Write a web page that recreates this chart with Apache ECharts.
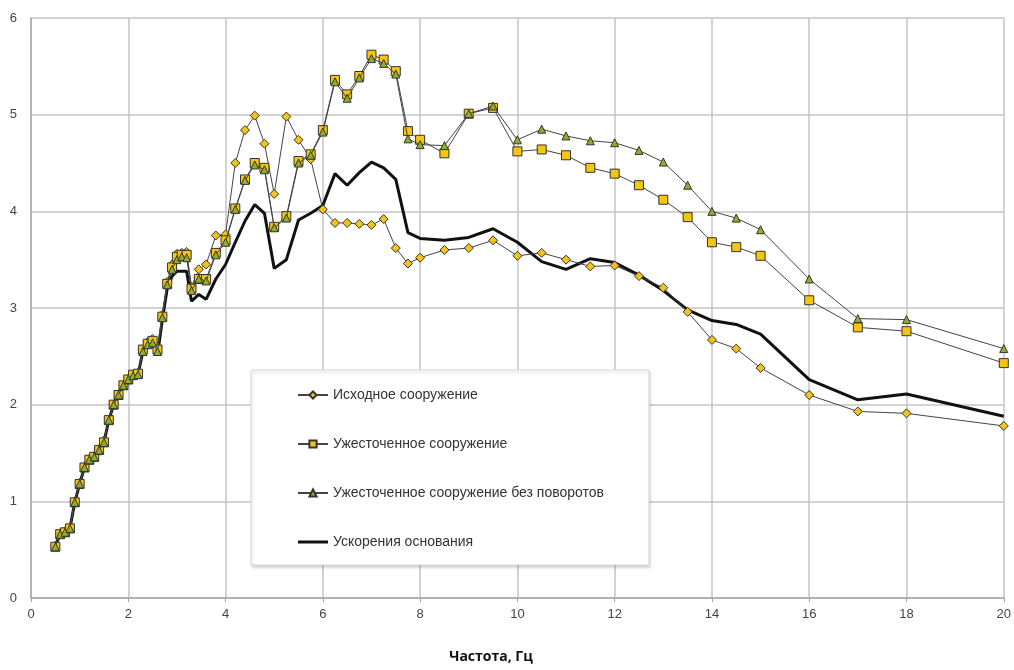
<!DOCTYPE html>
<html><head><meta charset="utf-8">
<script src="https://cdn.jsdelivr.net/npm/echarts@6/dist/echarts.min.js"></script>
<style>html,body{margin:0;padding:0;background:#fff;}#c{width:1014px;height:670px;}</style>
</head><body><div id="c"></div>
<script>
const freq = [0.5,0.6,0.7,0.8,0.9,1.0,1.1,1.2,1.3,1.4,1.5,1.6,1.7,1.8,1.9,2.0,
  2.1,2.2,2.3,2.4,2.5,2.6,2.7,2.8,2.9,3.0,3.1,3.2,3.3,
  3.45,3.6,3.8,4.0,
  4.2,4.4,4.6,4.8,5.0,
  5.25,5.5,5.75,6.0,6.25,6.5,6.75,7.0,7.25,7.5,7.75,8.0,
  8.5,9.0,9.5,10,10.5,11,11.5,12,12.5,13,13.5,14,14.5,15,
  16,17,18,20];
const original = [0.54,0.67,0.68,0.73,1.0,1.19,1.36,1.44,1.47,1.54,1.63,1.84,2.0,2.1,2.2,2.27,
  2.3,2.33,2.57,2.65,2.68,2.6,2.93,3.27,3.45,3.56,3.57,3.58,3.22,
  3.4,3.45,3.75,3.76,
  4.5,4.84,4.99,4.7,4.18,
  4.98,4.74,4.54,4.02,3.88,3.88,3.87,3.86,3.92,3.62,3.46,3.52,
  3.60,3.62,3.70,3.54,3.57,3.50,3.43,3.44,3.33,3.21,2.96,2.67,2.58,2.38,
  2.10,1.93,1.91,1.78];
const stiffened = [0.53,0.66,0.68,0.72,0.99,1.18,1.35,1.43,1.46,1.53,1.61,1.84,2.0,2.1,2.2,2.26,
  2.31,2.32,2.57,2.63,2.66,2.57,2.91,3.25,3.42,3.53,3.55,3.55,3.2,
  3.3,3.3,3.57,3.70,
  4.03,4.33,4.50,4.45,3.84,
  3.95,4.52,4.59,4.84,5.36,5.21,5.40,5.62,5.57,5.45,4.83,4.74,
  4.60,5.01,5.07,4.62,4.64,4.58,4.45,4.39,4.27,4.12,3.94,3.68,3.63,3.54,
  3.08,2.80,2.76,2.43];
const noRotation = [0.53,0.66,0.68,0.72,0.99,1.18,1.35,1.43,1.46,1.53,1.61,1.84,2.0,2.1,2.2,2.26,
  2.30,2.31,2.55,2.62,2.64,2.55,2.90,3.24,3.40,3.50,3.53,3.52,3.18,
  3.3,3.28,3.55,3.68,
  4.02,4.32,4.48,4.43,3.83,
  3.93,4.50,4.58,4.82,5.34,5.17,5.38,5.58,5.53,5.42,4.75,4.69,
  4.68,5.01,5.09,4.74,4.85,4.78,4.73,4.71,4.63,4.51,4.27,4.00,3.93,3.81,
  3.30,2.89,2.88,2.58];
const baseAccel = [0.54,0.66,0.68,0.72,0.99,1.18,1.35,1.43,1.46,1.53,1.61,1.84,2.0,2.1,2.2,2.26,
  2.30,2.31,2.55,2.62,2.62,2.51,2.88,3.2,3.33,3.38,3.38,3.38,3.07,
  3.14,3.09,3.3,3.45,
  3.68,3.9,4.07,3.98,3.41,
  3.50,3.91,3.98,4.06,4.39,4.27,4.40,4.51,4.45,4.33,3.78,3.72,
  3.70,3.73,3.82,3.68,3.48,3.40,3.51,3.47,3.34,3.18,2.98,2.87,2.83,2.73,
  2.26,2.05,2.11,1.88];
const seriesNames = ['Исходное сооружение','Ужесточенное сооружение','Ужесточенное сооружение без поворотов','Ускорения основания'];
const xTitle = 'Частота, Гц';

const pairs = ys => freq.map((x,i)=>[x, ys[i]]);
const chart = echarts.init(document.getElementById('c'), null, {renderer:'canvas'});
const gridLine = {show:true, lineStyle:{color:'#c4c4c4', width:1.5}};
const labelStyle = {color:'#444', fontFamily:'Liberation Sans, Arial, sans-serif', fontSize:13};
chart.setOption({
  animation:false,
  backgroundColor:'#fff',
  grid:{left:31, right:9, top:18, bottom:72, containLabel:false},
  xAxis:{type:'value', min:0, max:20, interval:2,
    axisLine:{show:true, onZero:false, lineStyle:{color:'#a8a8a8', width:1.5}},
    axisTick:{show:true, length:4, lineStyle:{color:'#a8a8a8'}},
    axisLabel:Object.assign({margin:10}, labelStyle),
    splitLine:gridLine},
  yAxis:{type:'value', min:0, max:6, interval:1,
    axisLine:{show:true, lineStyle:{color:'#a8a8a8', width:1.5}},
    axisTick:{show:false},
    axisLabel:Object.assign({margin:14}, labelStyle),
    splitLine:gridLine},
  legend:{orient:'vertical', left:251, top:370,
    padding:[18,45,16,46], itemGap:35, itemWidth:30, itemHeight:9,
    backgroundColor:'#fff', borderColor:'#d8d8d8', borderWidth:1,
    shadowColor:'rgba(0,0,0,0.18)', shadowBlur:3, shadowOffsetX:1, shadowOffsetY:2,
    textStyle:{color:'#333', fontFamily:'Liberation Sans, Arial, sans-serif', fontSize:14},
    data:[seriesNames[0], seriesNames[1], seriesNames[2],
      {name:seriesNames[3], icon:'path://M0,0 L30,0 L30,3 L0,3 Z', itemStyle:{color:'#111'}}]},
  graphic:[{type:'text', style:{x:491, y:657, text:xTitle, textAlign:'center', textVerticalAlign:'middle',
    font:'bold 14px "Open Sans", "Noto Sans", sans-serif', fill:'#111'}}],
  series:[
    {name:seriesNames[0], type:'line', data:pairs(original), symbol:'diamond', symbolSize:9,
      lineStyle:{color:'#444', width:1}, itemStyle:{color:'#f3c318', borderColor:'#333', borderWidth:1}, z:3},
    {name:seriesNames[1], type:'line', data:pairs(stiffened), symbol:'rect', symbolSize:9,
      lineStyle:{color:'#444', width:1}, itemStyle:{color:'#f5c60e', borderColor:'#333', borderWidth:1}, z:4},
    {name:seriesNames[2], type:'line', data:pairs(noRotation), symbol:'triangle', symbolSize:8,
      lineStyle:{color:'#444', width:1}, itemStyle:{color:'#8fae2e', borderColor:'#333', borderWidth:1}, z:5},
    {name:seriesNames[3], type:'line', data:pairs(baseAccel), symbol:'none', showSymbol:false,
      lineStyle:{color:'#111', width:3}, itemStyle:{color:'#111'}, z:2}
  ]
});
</script></body></html>
